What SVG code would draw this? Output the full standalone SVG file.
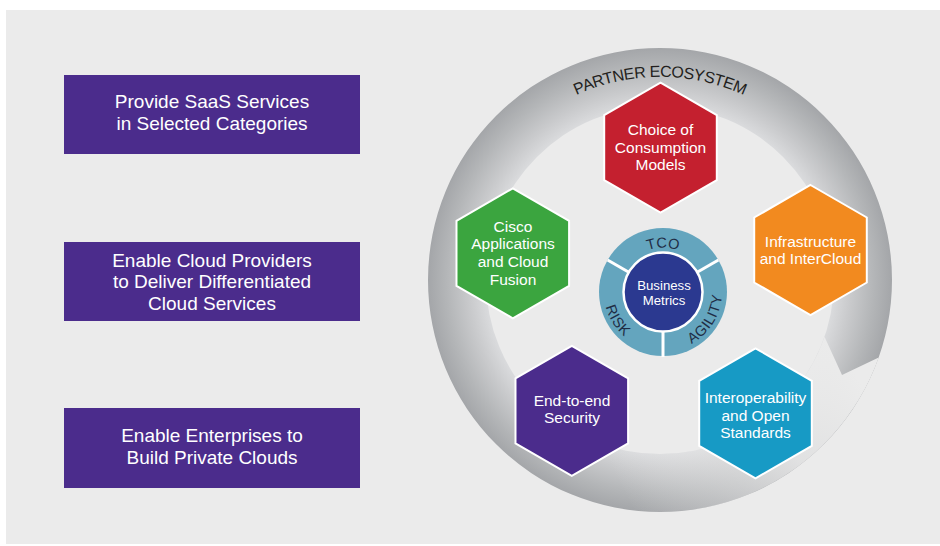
<svg xmlns="http://www.w3.org/2000/svg" width="940" height="546" viewBox="0 0 940 546">
  <style>
    text { font-family: "Liberation Sans", Arial, Helvetica, sans-serif; }
    .box { fill: #4b2c8c; }
    .boxText { fill: #ffffff; font-size: 19px; text-anchor: middle; }
    .hex { stroke: #ffffff; stroke-width: 2; }
    .hexText { fill: #ffffff; font-size: 15.5px; text-anchor: middle; }
    .ringLabel { fill: #231f20; font-size: 16px; letter-spacing: -0.45px; }
    .metric { fill: #1f2d45; font-size: 14.5px; letter-spacing: 0.6px; }
    .tight { letter-spacing: 0; }
    .core { fill: #ffffff; font-size: 13.2px; text-anchor: middle; }
  </style>
  <defs>
    <radialGradient id="ringShade" gradientUnits="userSpaceOnUse" cx="660" cy="280" r="232">
      <stop offset="0.74" stop-color="#dcdddf"/>
      <stop offset="0.82" stop-color="#cacbcd"/>
      <stop offset="0.92" stop-color="#b4b6b8"/>
      <stop offset="1" stop-color="#a4a6a9"/>
    </radialGradient>
    <linearGradient id="tailFade" gradientUnits="userSpaceOnUse" x1="850" y1="363" x2="620" y2="485">
      <stop offset="0" stop-color="#ebebeb" stop-opacity="1"/>
      <stop offset="0.35" stop-color="#ebebeb" stop-opacity="0.85"/>
      <stop offset="0.7" stop-color="#ebebeb" stop-opacity="0.35"/>
      <stop offset="1" stop-color="#ebebeb" stop-opacity="0"/>
    </linearGradient>
    <!-- pointy-top hexagon, circumradius 65 -->
    <path id="hex" d="M0,-65 L56.3,-32.5 L56.3,32.5 L0,65 L-56.3,32.5 L-56.3,-32.5 Z"/>
    <path id="partnerArc" d="M469.2,210.6 A203,203 0 0,1 850.8,210.6"/>
    <path id="tcoArc" d="M624.5,269.8 A44.5,44.5 0 0,1 701.5,269.8"/>
    <path id="riskArc" d="M607.6,271.8 A59,59 0 0,0 656.8,350.7"/>
    <path id="agilityArc" d="M669.2,350.7 A59,59 0 0,0 718.4,271.8"/>
  </defs>

  <!-- backdrop panel -->
  <rect x="0" y="0" width="940" height="546" fill="#ffffff"/>
  <rect x="6" y="10" width="934" height="534" fill="#ebebeb"/>

  <!-- left column of goals -->
  <g id="goal-saas">
    <rect class="box" x="64" y="75" width="296" height="79"/>
    <text class="boxText" x="212" y="108">Provide SaaS Services</text>
    <text class="boxText" x="212" y="129.5">in Selected Categories</text>
  </g>
  <g id="goal-providers">
    <rect class="box" x="64" y="242" width="296" height="79"/>
    <text class="boxText" x="212" y="266.5">Enable Cloud Providers</text>
    <text class="boxText" x="212" y="288">to Deliver Differentiated</text>
    <text class="boxText" x="212" y="309.5">Cloud Services</text>
  </g>
  <g id="goal-enterprises">
    <rect class="box" x="64" y="408" width="296" height="80"/>
    <text class="boxText" x="212" y="441.5">Enable Enterprises to</text>
    <text class="boxText" x="212" y="463.5">Build Private Clouds</text>
  </g>

  <!-- circular partner ecosystem arrow -->
  <g id="partner-ecosystem">
    <path fill="url(#ringShade)" fill-rule="evenodd"
          d="M428,280 a232,232 0 1,0 464,0 a232,232 0 1,0 -464,0 Z M486,280 a174,174 0 1,0 348,0 a174,174 0 1,0 -348,0 Z"/>
    <!-- fading tail behind the pointed head -->
    <path fill="url(#tailFade)"
          d="M824.5,336.7 L842,375 L878.7,357.4 A232,232 0 0,1 580.7,498 L600.5,443.5 A174,174 0 0,0 824.5,336.7 Z"/>
    <text class="ringLabel"><textPath href="#partnerArc" startOffset="50%" text-anchor="middle">PARTNER ECOSYSTEM</textPath></text>
  </g>

  <!-- pillars -->
  <g id="consumption-models">
    <use href="#hex" class="hex" fill="#c4202f" transform="translate(660.5,147.7)"/>
    <text class="hexText" x="660.5" y="135">Choice of</text>
    <text class="hexText" x="660.5" y="152.5">Consumption</text>
    <text class="hexText" x="660.5" y="170">Models</text>
  </g>
  <g id="cisco-applications">
    <use href="#hex" class="hex" fill="#3ba53f" transform="translate(512.8,253.3)"/>
    <text class="hexText" x="513" y="231.7">Cisco</text>
    <text class="hexText" x="513" y="249.3">Applications</text>
    <text class="hexText" x="513" y="266.8">and Cloud</text>
    <text class="hexText" x="513" y="284.5">Fusion</text>
  </g>
  <g id="infrastructure">
    <use href="#hex" class="hex" fill="#f28a1f" transform="translate(810.5,250)"/>
    <text class="hexText" x="810.5" y="246.7">Infrastructure</text>
    <text class="hexText" x="810.5" y="264">and InterCloud</text>
  </g>
  <g id="security">
    <use href="#hex" class="hex" fill="#4b2c8c" transform="translate(571.8,410.8)"/>
    <text class="hexText" x="572" y="406">End-to-end</text>
    <text class="hexText" x="572" y="423.3">Security</text>
  </g>
  <g id="interoperability">
    <use href="#hex" class="hex" fill="#179ac5" transform="translate(755.5,413.3)"/>
    <text class="hexText" x="755.5" y="402.7">Interoperability</text>
    <text class="hexText" x="755.5" y="420.5">and Open</text>
    <text class="hexText" x="755.5" y="438.2">Standards</text>
  </g>

  <!-- business metrics hub -->
  <g id="business-metrics">
    <circle cx="663" cy="292" r="64" fill="#64a5be"/>
    <g stroke="#ffffff" stroke-width="3">
      <line x1="663" y1="332" x2="663" y2="357"/>
      <line x1="628.4" y1="272" x2="607.6" y2="260"/>
      <line x1="697.6" y1="272" x2="718.4" y2="260"/>
    </g>
    <circle cx="663" cy="292" r="39.5" fill="#2b3990" stroke="#ffffff" stroke-width="2.5"/>
    <text class="metric tight"><textPath href="#tcoArc" startOffset="50%" text-anchor="middle">TCO</textPath></text>
    <text class="metric"><textPath href="#riskArc" startOffset="50%" text-anchor="middle">RISK</textPath></text>
    <text class="metric"><textPath href="#agilityArc" startOffset="50%" text-anchor="middle">AGILITY</textPath></text>
    <text class="core" x="664" y="290">Business</text>
    <text class="core" x="664" y="305">Metrics</text>
  </g>
</svg>
